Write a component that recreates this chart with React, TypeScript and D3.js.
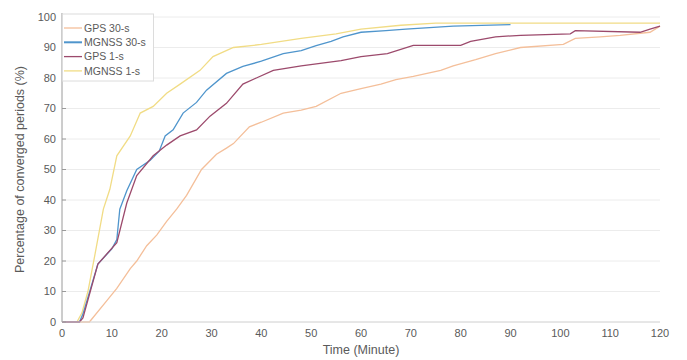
import React from "react";
import * as d3 from "d3";

const xTicks = [0, 10, 20, 30, 40, 50, 60, 70, 80, 90, 100, 110, 120];
const yTicks = [0, 10, 20, 30, 40, 50, 60, 70, 80, 90, 100];

const gps30T = [0, 5.5, 9, 11, 13.7, 15, 17, 19, 21, 23, 25, 28, 31, 33, 34.4, 37.6, 40, 44.4, 48, 51, 56, 60, 64, 67, 70.5, 76, 78.5, 83, 87, 92, 100.6, 103, 108, 112, 118, 120];
const gps30V = [0, 0, 7, 11, 17.5, 20, 25, 28.5, 33, 37, 41.5, 50, 55, 57, 58.5, 64, 65.5, 68.5, 69.5, 70.7, 75, 76.5, 78, 79.5, 80.5, 82.5, 84, 86, 88, 90, 91, 93, 93.5, 94, 95, 97];

const mg30T = [0, 3.5, 4.2, 7.2, 10, 11, 11.6, 13, 15, 17.7, 19.5, 20.7, 22.3, 24.3, 27, 29, 33, 36.3, 40, 44.4, 48, 51, 54, 56.4, 60, 65, 69, 78.5, 90];
const mg30V = [0, 0, 2.6, 19, 24, 27, 37, 43, 50, 53, 56, 61, 63, 68.5, 72, 76, 81.5, 83.8, 85.5, 88, 89, 90.6, 92, 93.5, 95, 95.5, 96, 97, 97.5];

const gps1T = [0, 3.5, 4.2, 7.2, 11, 13, 15, 18.3, 21, 23.7, 27, 29.7, 33, 36.3, 39, 42.4, 48, 56, 60, 65.3, 70.5, 80, 82, 87, 92, 102, 103, 116, 118, 120];
const gps1V = [0, 0, 1.3, 19, 26, 39, 48, 54.5, 58, 61, 63, 67.5, 71.7, 78, 80, 82.5, 84, 85.7, 87, 88, 90.7, 90.7, 92, 93.5, 94, 94.5, 95.5, 95, 96, 97];

const mg1T = [0, 3, 4, 5.2, 6.6, 8.3, 9.6, 11, 13.7, 15.7, 18.3, 21, 23.7, 27.7, 30.3, 34.4, 40, 48, 55, 60, 68, 75, 120];
const mg1V = [0, 0, 3, 10, 22, 37, 43.5, 54.5, 61, 68.5, 70.7, 75, 78, 82.5, 87, 90, 91, 93, 94.5, 96, 97.3, 98, 98];

const seriesNames = ["GPS 30-s", "MGNSS 30-s", "GPS 1-s", "MGNSS 1-s"];
const seriesColors = ["#f4bf9a", "#4f95cc", "#9c4a6c", "#f1dc85"];

export default function App() {
  const W = 687, H = 360;
  const left = 62, right = 660, top = 17, bottom = 322;
  const x = d3.scaleLinear().domain([0, 120]).range([left, right]);
  const y = d3.scaleLinear().domain([0, 100]).range([bottom, top]);
  const line = d3.line<[number, number]>().x(d => x(d[0])).y(d => y(d[1]));
  const series = [
    [gps30T, gps30V],
    [mg30T, mg30V],
    [gps1T, gps1V],
    [mg1T, mg1V],
  ].map(([t, v]) => t.map((tt, i) => [tt, v[i]] as [number, number]));
  const font = "'Liberation Sans', Arial, sans-serif";
  const textColor = "#5a5a5a";
  const drawOrder = [0, 3, 1, 2];
  return (
    <svg width={W} height={H} style={{ position: "absolute", left: 0, top: 0 }} fontFamily={font}>
      <rect x={0} y={0} width={W} height={H} fill="#fff" />
      {yTicks.map(t => (
        <line key={"g" + t} x1={left} x2={right} y1={y(t)} y2={y(t)} stroke="#ececec" strokeWidth={1} />
      ))}
      {drawOrder.map(i => (
        <path key={i} d={line(series[i]) || ""} fill="none" stroke={seriesColors[i]} strokeWidth={1.3} />
      ))}
      <line x1={left} x2={left} y1={top - 4} y2={bottom} stroke="#9a9a9a" />
      <line x1={left} x2={right} y1={bottom} y2={bottom} stroke="#d8d8d8" />
      {yTicks.map(t => (
        <g key={"y" + t}>
          <line x1={left} x2={left + 4} y1={y(t)} y2={y(t)} stroke="#9a9a9a" />
          <text x={left - 6} y={y(t)} dy="0.35em" textAnchor="end" fontSize={11} fill={textColor}>{t}</text>
        </g>
      ))}
      {xTicks.map(t => (
        <text key={"x" + t} x={x(t)} y={bottom + 15} textAnchor="middle" fontSize={11} fill={textColor}>{t}</text>
      ))}
      <text x={(left + right) / 2} y={354} textAnchor="middle" fontSize={12.5} fill={textColor}>Time (Minute)</text>
      <text transform={`translate(24,${(top + bottom) / 2}) rotate(-90)`} textAnchor="middle" fontSize={12.5} fill={textColor}>
        Percentage of converged periods (%)
      </text>
      <g>
        <rect x={left + 0.5} y={top - 3} width={91} height={67} fill="#fff" stroke="#dcdcdc" />
        {seriesNames.map((n, i) => (
          <g key={n}>
            <line x1={left + 2} x2={left + 20} y1={28 + i * 14.3} y2={28 + i * 14.3} stroke={seriesColors[i]} strokeWidth={i === 1 ? 2 : 1.3} />
            <text x={left + 22} y={28 + i * 14.3} dy="0.35em" fontSize={10.5} fill={textColor}>{n}</text>
          </g>
        ))}
      </g>
    </svg>
  );
}
